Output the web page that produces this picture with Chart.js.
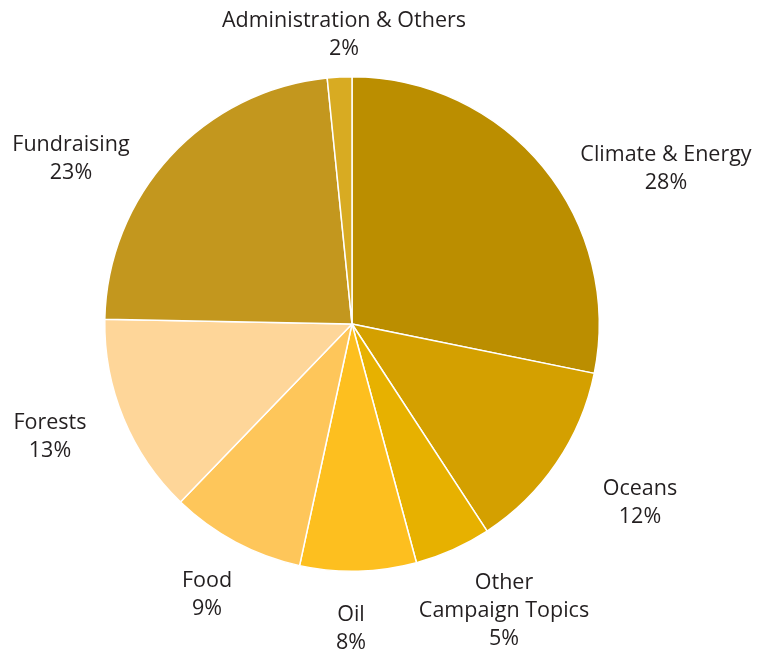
<!DOCTYPE html>
<html>
<head>
<meta charset="utf-8">
<script src="https://cdn.jsdelivr.net/npm/chart.js@4.4.0/dist/chart.umd.min.js"></script>
<style>
  html, body { margin: 0; padding: 0; background: #fff; }
  #wrap { width: 757px; height: 663px; }
</style>
</head>
<body>
<div id="wrap"><canvas id="pie"></canvas></div>
<script>
const categories = ['Climate & Energy', 'Oceans', 'Other\nCampaign Topics', 'Oil', 'Food', 'Forests', 'Fundraising', 'Administration & Others']
const shares = [28.2, 12.6, 5.0, 7.6, 8.8, 13.1, 23.1, 1.6]
const shareLabels = ['28%', '12%', '5%', '8%', '9%', '13%', '23%', '2%']
const colors = ['#BB8E00', '#D4A000', '#E7B100', '#FDBF1F', '#FEC65A', '#FED699', '#C3971E', '#D8AB22']

// where each label sits, relative to pie centre
const labelSpots = [
  [314, -155], [288, 179], [152, 287], [-1, 305], [-145, 271], [-302, 113], [-281, -165], [-8, -289]
]

const labelPlugin = {
  id: 'outsideLabels',
  afterDraw(chart) {
    const ctx = chart.ctx
    const arc = chart.getDatasetMeta(0).data[0]
    const cx = arc.x, cy = arc.y
    ctx.save()
    ctx.fillStyle = '#231f20'
    ctx.font = '21.5px "Open Sans"'
    ctx.textAlign = 'center'
    ctx.textBaseline = 'middle'
    categories.forEach((name, i) => {
      const lines = name.split('\n').concat([shareLabels[i]])
      const lh = 28
      const top = cy + labelSpots[i][1] - (lines.length - 1) * lh / 2
      lines.forEach((ln, j) => {
        ctx.fillText(ln, cx + labelSpots[i][0], top + j * lh)
      })
    })
    ctx.restore()
  }
}

new Chart(document.getElementById('pie'), {
  type: 'pie',
  data: {
    labels: categories,
    datasets: [{
      data: shares,
      backgroundColor: colors,
      borderColor: '#ffffff',
      borderWidth: 1.5
    }]
  },
  options: {
    responsive: true,
    maintainAspectRatio: false,
    animation: false,
    layout: { padding: { left: 104, right: 157, top: 76, bottom: 91 } },
    plugins: { legend: { display: false }, tooltip: { enabled: false } }
  },
  plugins: [labelPlugin]
})
</script>
</body>
</html>
